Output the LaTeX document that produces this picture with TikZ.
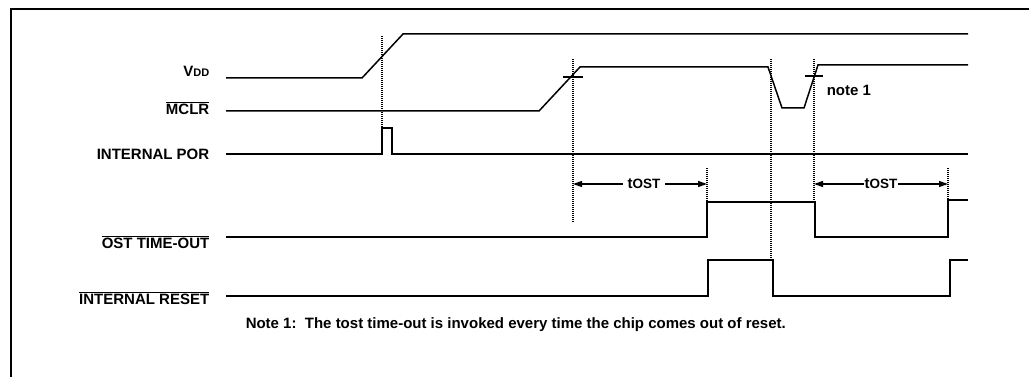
\documentclass[tikz,border=0pt]{standalone}
\usepackage{fontspec}
\setmainfont{Liberation Sans}
\usetikzlibrary{arrows.meta}

\newcommand{\smc}[1]{{\fontsize{11}{11}\selectfont #1}}

\begin{document}
\begin{tikzpicture}[x=1pt, y=-1pt, line width=1.5pt,
    every node/.style={font=\fontsize{15}{15}\selectfont\bfseries, inner sep=0pt},
    guide/.style={line width=1.2pt, dash pattern=on 1pt off 1pt},
    span/.style={line width=1.2pt, {Triangle[length=9pt,width=6pt]}-{Triangle[length=9pt,width=6pt]}}]
    \useasboundingbox (0,0) rectangle (1029,377);

    % frame
    \draw[line width=1.4pt] (11,377) -- (11,9) -- (1029,9);

    % signal labels
    \node[anchor=east] (vdd) at (210,71) {V\smc{DD}};
    \node[anchor=east] (mclr) at (210,108) {$\overline{\mbox{MCLR}}$};
    \node[anchor=east] (por) at (210,154) {INTERNAL POR};
    \node[anchor=east] (ost) at (210,242) {$\overline{\mbox{OST TIME-OUT}}$};
    \node[anchor=east] (rst) at (210,298) {$\overline{\mbox{INTERNAL RESET}}$};

    % waveforms
    \draw (226,78) -- (362,78) -- (403,34) -- (968,34);
    \draw (226,111) -- (539,111) -- (580,67) -- (768,67) -- (782,108)
        -- (804,108) -- (818,65) -- (968,65);
    \draw (226,154) -- (382,154) -- (382,128) -- (392,128) -- (392,154)
        -- (968,154);
    \draw (226,237) -- (707,237) -- (707,202) -- (815,202) -- (815,237)
        -- (948,237) -- (948,200) -- (968,200);
    \draw (226,296) -- (708,296) -- (708,260) -- (773,260) -- (773,296)
        -- (950,296) -- (950,260) -- (968,260);

    % threshold ticks
    \draw (563,77) -- (583,77);
    \draw (805,76) -- (823,76);

    % dotted guides
    \foreach \x/\ya/\yb in {382/36/128, 573/59/223, 707/168/202,
        771/59/260, 814/59/202, 948/168/233}
        \draw[guide] (\x,\ya) -- (\x,\yb);

    % oscillator start-up time
    \coordinate (T1a) at (573,184);
    \coordinate (T1b) at (707,184);
    \coordinate (T2a) at (814,184);
    \coordinate (T2b) at (948,184);
    \draw[span] (T1a) -- (T1b)
        node[pos=0.53, fill=white, inner xsep=5pt, inner ysep=2pt] (tost1) {t\smc{\fontsize{13.5}{13.5}\selectfont OST}};
    \draw[span] (T2a) -- (T2b)
        node[midway, fill=white, inner xsep=1pt, inner ysep=2pt] (tost2) {t\smc{\fontsize{13.5}{13.5}\selectfont OST}};

    \node[anchor=west] (note) at (826,90) {note 1};
    \node[anchor=west] (foot) at (245,325)
        {Note 1:\ \ The tost time-out is invoked every time the chip comes out of reset.};
\end{tikzpicture}
\end{document}
